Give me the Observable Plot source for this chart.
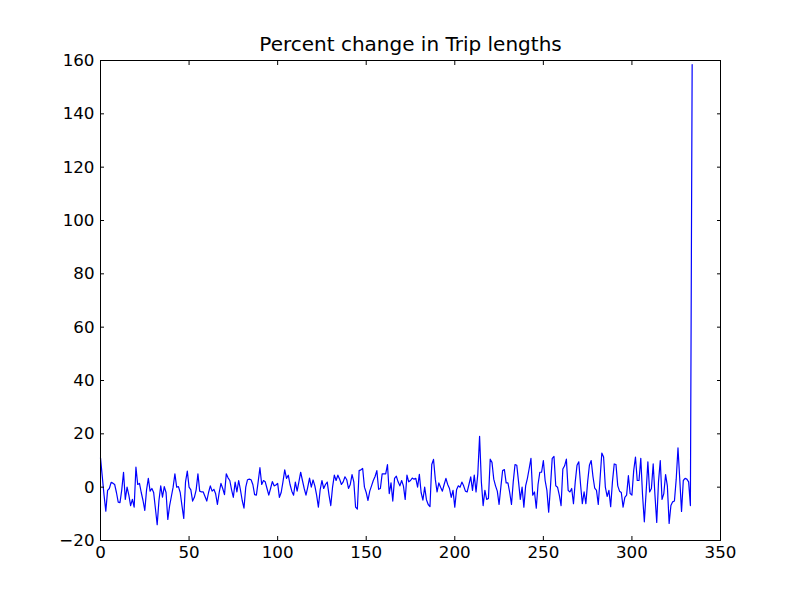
<!DOCTYPE html>
<html>
<head>
<meta charset="utf-8">
<script src="https://cdn.jsdelivr.net/npm/d3@7"></script>
<script src="https://cdn.jsdelivr.net/npm/@observablehq/plot@0.6"></script>
<style>
  html, body { margin: 0; padding: 0; background: #fff; }
  svg { font-family: "DejaVu Sans", sans-serif; }
</style>
</head>
<body>
<div id="chart"></div>
<script>
const title = "Percent change in Trip lengths";
const xTicks = [0, 50, 100, 150, 200, 250, 300, 350];
const yTicks = [-20, 0, 20, 40, 60, 80, 100, 120, 140, 160];
const pctChange = [
  11, 4, -3, -9, -1.2, -0.5, 1.8, 1.5, 1, -2,
  -5.6, -5.8, -1, 5.6, -4.6, 0, -3, -6.9, -4.6, -7.5,
  7.5, 1, 1.4, -2, -5, -8.7, -1, 3.3, -1.5, -0.5,
  -2, -8, -14.1, -5, 0.5, -3.7, 0.2, -2, -12.1, -7,
  -3.5, 0, 5, 0, 0.2, -2, -7, -11.7, 2, 6,
  0, -1, -5.2, -3.8, -1, 5, -1.5, -1.8, -1.8, -3.5,
  -5.2, -2, 0.5, -1.5, -0.8, -2.5, -6.5, -2, 1.4, -0.5,
  -2.8, 5, 3.5, 2.5, -1, -3.8, 1.9, -1.8, 2.5, -1,
  -5, -7.9, 0, 2.8, 3, 2.8, 1, -2.8, -3, 2,
  7.3, 1, 2.5, 2, -0.5, -3, -0.5, 2.1, 0.5, 0.8,
  1.4, -3.8, -2, 2, 6.5, 3.3, 4.5, 1, -1.5, -3,
  1.9, -1.5, 2, 5.6, 2.5, -0.5, -3, 0, 3.4, 0,
  2.7, 0.5, -3, -7.5, -1, 2.5, -0.5, 1, 1.9, -3,
  -6.9, 0, 4.5, 2.5, 4.5, 3, 1, 2, 3.9, 2.8,
  -0.5, 1, 4.7, 2, -7.5, -8.2, 6.2, 6.5, 7, 0,
  -2, -5, -1.5, 0.5, 2.5, 4, 6.2, -0.8, -0.5, 5,
  5, 5, 8.5, -2.4, 1.6, -5.2, 3.3, 4.1, 2, 0.5,
  2.5, 0.5, -4.6, 4.5, 2, 2.5, 3.4, 3, 3.3, 0,
  4.8, -2, -4.9, 0, -4.7, -6.5, -7.3, 8.5, 10.4, 3,
  -1.8, 1.6, 0, -1.5, 1, 3.3, 1, -0.5, -3.8, -1.2,
  -7.5, -1, 0.5, 0, 1.9, 0.5, -1.5, -1.8, 1, 3.9,
  -1.2, 4.5, -1.8, 5, 19.1, 2, -6.9, -1.2, -4.6, -4.2,
  10.5, 9.3, 3, 0.5, -1.5, -6.5, 0, 6.2, 6.6, 1.6,
  1.6, -2, -6.5, 2, 8.5, 8.2, 2, -4.6, 0, -7.5,
  0.5, 3.3, 7, 10.8, -3, -1.8, -7.9, 1, 5.6, 5.6,
  10, 2.5, -1.2, -9.4, 0, 10.8, 11.5, 0.5, 0, -3,
  -6.9, 6.8, 8, 10.5, -1.2, -1.8, -0.5, -6.2, 2, 8.2,
  9.5, 1, -6.2, -1.8, -6.2, 2, 8.2, 10, 4, -0.4,
  -1.2, -6.5, 3, 12.8, 11.3, 0, -3.5, -1.2, -7.3, 2,
  8.7, 8.5, 0.5, -1.5, -2, -7.5, -3.8, -3, 4.3, -2.4,
  -3, 6.2, 11.3, 2.5, 2.5, 10.8, -3, -13, -2, 9.5,
  -1.8, -0.5, 8.7, -3, -13.2, 2, 10, -4.6, -2.4, 4.7,
  0.5, -13.6, -6.9, -5.5, -5.2, 3, 14.7, 3, -9.1, 2.5,
  3.3, 3, 2, -6.9, 158.5
];
const data = pctChange.map((v, i) => ({x: i, y: v}));
const fmt = d3.format("d");
const blank = () => "";

const chart = Plot.plot({
  width: 800,
  height: 600,
  marginLeft: 100,
  marginRight: 80,
  marginTop: 60,
  marginBottom: 60,
  style: {fontFamily: "DejaVu Sans, sans-serif", fontSize: "16.7px", color: "black", background: "white"},
  x: {domain: [0, 350], label: null},
  y: {domain: [-20, 160], label: null},
  marks: [
    Plot.line(data, {x: "x", y: "y", stroke: "#0000ff", strokeWidth: 1.2}),
    Plot.frame({stroke: "black", strokeWidth: 1}),
    Plot.axisX(xTicks, {anchor: "bottom", tickSize: 0, tickPadding: 6, tickFormat: fmt, fontSize: 16.7, label: null}),
    Plot.axisX(xTicks, {anchor: "bottom", tickSize: 4, tickFormat: blank, dy: -4, label: null}),
    Plot.axisX(xTicks, {anchor: "top", tickSize: 4, tickFormat: blank, dy: 4, label: null}),
    Plot.axisY(yTicks, {anchor: "left", tickSize: 0, tickPadding: 6, tickFormat: fmt, fontSize: 16.7, label: null}),
    Plot.axisY(yTicks, {anchor: "left", tickSize: 4, tickFormat: blank, dx: 4, label: null}),
    Plot.axisY(yTicks, {anchor: "right", tickSize: 4, tickFormat: blank, dx: -4, label: null}),
    Plot.text([title], {frameAnchor: "top", lineAnchor: "bottom", dy: -10, fontSize: 20, fill: "black"})
  ]
});
document.getElementById("chart").appendChild(chart);
</script>
</body>
</html>
